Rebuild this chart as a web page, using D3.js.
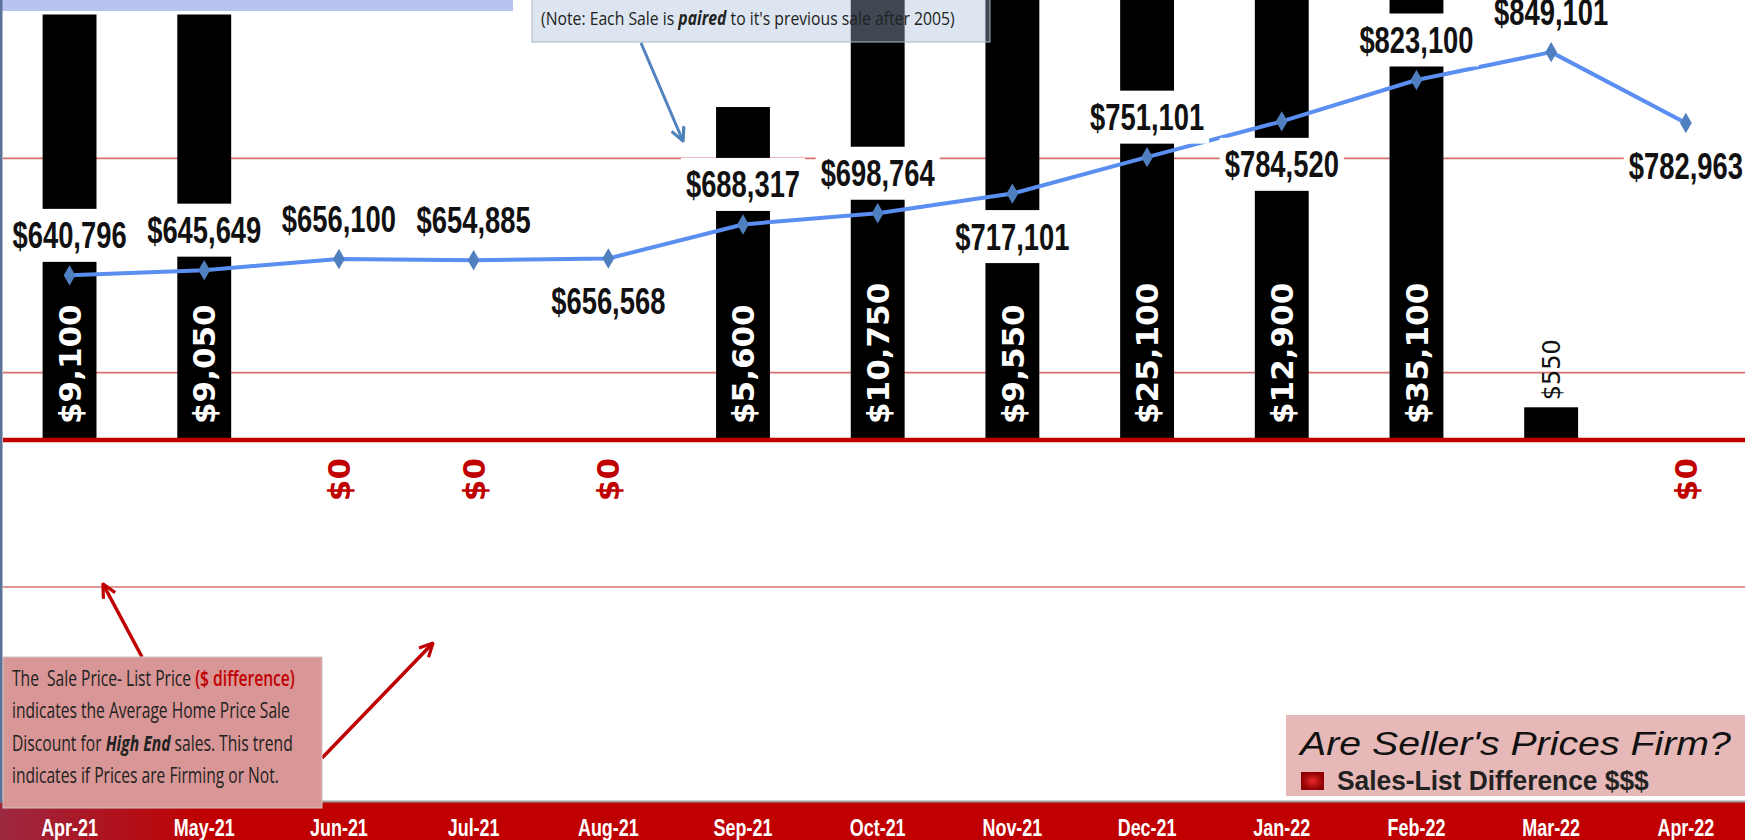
<!DOCTYPE html>
<html>
<head>
<meta charset="utf-8">
<script src="https://cdnjs.cloudflare.com/ajax/libs/d3/7.8.5/d3.min.js"></script>
<style>
  html, body { margin: 0; padding: 0; background: #fff; overflow: hidden; }
  svg { display: block; }
</style>
</head>
<body>
<script>
// chart data
const months = ["Apr-21", "May-21", "Jun-21", "Jul-21", "Aug-21", "Sep-21", "Oct-21",
  "Nov-21", "Dec-21", "Jan-22", "Feb-22", "Mar-22", "Apr-22"];
const avgSalePrice = [640796, 645649, 656100, 654885, 656568, 688317, 698764,
  717101, 751101, 784520, 823100, 849101, 782963];
const saleListDiff = [9100, 9050, 0, 0, 0, 5600, 10750, 9550, 25100, 12900, 35100, 550, 0];
const priceLabelSide = ["above", "above", "above", "above", "below", "above", "above",
  "below", "above", "below", "above", "above", "below"];
const priceGridTicks = [350000, 550000, 750000, 950000];

const noteParts = [["(Note: Each Sale is ", ""], ["paired", "bi"], [" to it's previous sale after 2005)", ""]];
const infoLines = [
  [["The  Sale Price- List Price ", ""], ["($ difference)", "red"]],
  [["indicates the Average Home Price Sale", ""]],
  [["Discount for ", ""], ["High End", "bi"], [" sales. This trend", ""]],
  [["indicates if Prices are Firming or Not.", ""]]
];
const legendTitle = "Are Seller's Prices Firm?";
const legendItem = "Sales-List Difference $$$";

const width = 1745, height = 840;
const base = 440;

const svg = d3.select("body").append("svg")
  .attr("width", width)
  .attr("height", height);

const defs = svg.append("defs");
const bandGrad = defs.append("linearGradient").attr("id", "bandGrad")
  .attr("x1", 0).attr("x2", 1).attr("y1", 0).attr("y2", 0);
bandGrad.append("stop").attr("offset", "0%").attr("stop-color", "#9c2840");
bandGrad.append("stop").attr("offset", "12%").attr("stop-color", "#c00000");
bandGrad.append("stop").attr("offset", "100%").attr("stop-color", "#c00000");

const keyGrad = defs.append("radialGradient").attr("id", "keyGrad");
keyGrad.append("stop").attr("offset", "0%").attr("stop-color", "#e8282a");
keyGrad.append("stop").attr("offset", "100%").attr("stop-color", "#8e0000");

function arrowMarker(id, color) {
  defs.append("marker")
    .attr("id", id)
    .attr("viewBox", "0 0 12 12")
    .attr("refX", 11).attr("refY", 6)
    .attr("markerWidth", 16).attr("markerHeight", 16)
    .attr("markerUnits", "userSpaceOnUse")
    .attr("orient", "auto")
    .append("path")
    .attr("d", "M1,1 L11,6 L1,11")
    .attr("fill", "none")
    .attr("stroke", color)
    .attr("stroke-width", 2.4);
}
arrowMarker("arrowBlue", "#4f81bd");
arrowMarker("arrowRed", "#c00000");

const x = d3.scaleBand()
  .domain(months)
  .range([2.2, 1753.2])
  .paddingInner(0.6)
  .paddingOuter(0.3);
const cx = m => x(m) + x.bandwidth() / 2;

const yBar = d3.scaleLinear().domain([0, 7400]).range([base, 0]);
const yLine = d3.scaleLinear().domain([350000, 950000]).range([587, -56]);

// squeeze a text element horizontally around anchor point ax
function squeeze(sel, s, ax) {
  sel.attr("transform", `translate(${ax},0) scale(${s},1) translate(${-ax},0)`);
}
function fitWidth(sel, target, ax) {
  const len = sel.node().getComputedTextLength();
  squeeze(sel, target / len, ax);
}
function addParts(textSel, parts) {
  parts.forEach(p => {
    const t = textSel.append("tspan").text(p[0]);
    if (p[1] === "bi") t.attr("font-weight", "bold").attr("font-style", "italic");
    if (p[1] === "red") t.attr("fill", "#c00000").attr("font-weight", "600");
  });
}

// gridlines
svg.append("g").selectAll("line")
  .data(priceGridTicks)
  .join("line")
  .attr("x1", 3).attr("x2", width)
  .attr("y1", d => yLine(d)).attr("y2", d => yLine(d))
  .attr("stroke", "#d77070")
  .attr("stroke-width", 1.6);

// bars
const rows = months.map((m, i) => ({ m, price: avgSalePrice[i], diff: saleListDiff[i], side: priceLabelSide[i] }));

svg.append("g").selectAll("rect")
  .data(rows.filter(d => d.diff > 0))
  .join("rect")
  .attr("x", d => x(d.m))
  .attr("width", x.bandwidth())
  .attr("y", d => yBar(d.diff))
  .attr("height", d => base - yBar(d.diff))
  .attr("fill", "#000");

// zero line of the bar axis
svg.append("line")
  .attr("x1", 3).attr("x2", width)
  .attr("y1", yBar(0)).attr("y2", yBar(0))
  .attr("stroke", "#c00000")
  .attr("stroke-width", 4.5);

// price line
const line = d3.line().x(d => cx(d.m)).y(d => yLine(d.price));
svg.append("path")
  .datum(rows)
  .attr("d", line)
  .attr("fill", "none")
  .attr("stroke", "#5a8ef0")
  .attr("stroke-width", 4)
  .attr("stroke-linejoin", "round");

svg.append("g").selectAll("path")
  .data(rows)
  .join("path")
  .attr("transform", d => `translate(${cx(d.m)},${yLine(d.price)})`)
  .attr("d", d3.symbol(d3.symbolDiamond, 120))
  .attr("fill", "#4f7fbf");

// price labels with white boxes
const fmt = d3.format(",");
const priceLab = svg.append("g").selectAll("g")
  .data(rows)
  .join("g")
  .attr("transform", d => `translate(${cx(d.m)},${yLine(d.price) + (d.side === "above" ? -40 : 43)})`);

priceLab.each(function(d) {
  const g = d3.select(this);
  const r = g.append("rect").attr("fill", "#fff");
  const t = g.append("text")
    .attr("text-anchor", "middle")
    .attr("dy", "0.35em")
    .attr("font-family", "Liberation Sans, Arial, sans-serif")
    .attr("font-weight", "bold")
    .attr("font-size", 37)
    .attr("fill", "#111")
    .text("$" + fmt(d.price));
  const s = 0.74;
  squeeze(t, s, 0);
  const w = t.node().getComputedTextLength() * s + 10;
  r.attr("x", -w / 2).attr("width", w).attr("y", -26.5).attr("height", 53);
});

// bar value labels
svg.append("g").selectAll("text")
  .data(rows)
  .join("text")
  .attr("transform", d => {
    if (d.diff === 0) return `translate(${cx(d.m)},${base + 18}) rotate(-90)`;
    if (base - yBar(d.diff) < 80) return `translate(${cx(d.m)},${yBar(d.diff) - 7}) rotate(-90)`;
    return `translate(${cx(d.m)},${base - 16}) rotate(-90)`;
  })
  .attr("text-anchor", d => d.diff === 0 ? "end" : "start")
  .attr("dy", "0.36em")
  .attr("font-family", "DejaVu Sans, Verdana, sans-serif")
  .attr("font-weight", d => (d.diff > 0 && base - yBar(d.diff) < 80) ? "normal" : "bold")
  .attr("font-size", d => (d.diff > 0 && base - yBar(d.diff) < 80) ? 24 : 31)
  .attr("fill", d => d.diff === 0 ? "#c00000" : (base - yBar(d.diff) < 80 ? "#111" : "#fff"))
  .text(d => "$" + fmt(d.diff));

// title box remnant at the top
svg.append("rect").attr("x", 0).attr("y", 0).attr("width", 515).attr("height", 14.5).attr("fill", "#fff");
svg.append("rect").attr("x", 0).attr("y", 0).attr("width", 513).attr("height", 11).attr("fill", "#b8c3f0");

// note box
svg.append("rect")
  .attr("x", 532).attr("y", -3).attr("width", 458).attr("height", 45)
  .attr("fill", "rgb(165,189,216)").attr("fill-opacity", 0.38)
  .attr("stroke", "#aab6c6").attr("stroke-width", 1);
const note = svg.append("text")
  .attr("x", 541).attr("y", 25)
  .attr("font-family", "Open Sans, sans-serif")
  .attr("font-size", 19)
  .attr("fill", "#222");
addParts(note, noteParts);
fitWidth(note, 414, 541);

svg.append("line")
  .attr("x1", 641).attr("y1", 43).attr("x2", 683).attr("y2", 141)
  .attr("stroke", "#4f81bd").attr("stroke-width", 3)
  .attr("marker-end", "url(#arrowBlue)");

// red arrows
svg.append("line")
  .attr("x1", 142).attr("y1", 657).attr("x2", 103).attr("y2", 584)
  .attr("stroke", "#c00000").attr("stroke-width", 3.5)
  .attr("marker-end", "url(#arrowRed)");
svg.append("line")
  .attr("x1", 322).attr("y1", 758).attr("x2", 433).attr("y2", 643)
  .attr("stroke", "#c00000").attr("stroke-width", 3.5)
  .attr("marker-end", "url(#arrowRed)");

// x axis band
svg.append("rect")
  .attr("x", 0).attr("y", 802).attr("width", width).attr("height", 38)
  .attr("fill", "url(#bandGrad)");
svg.append("line")
  .attr("x1", 0).attr("x2", width).attr("y1", 801.5).attr("y2", 801.5)
  .attr("stroke", "#a0a0a0").attr("stroke-width", 2);

const xAxis = svg.append("g")
  .attr("transform", "translate(0,802)")
  .call(d3.axisBottom(x).tickSize(0));
xAxis.select(".domain").remove();
xAxis.selectAll("text")
  .attr("y", 34).attr("dy", 0)
  .attr("fill", "#fff")
  .attr("font-family", "Liberation Sans, Arial, sans-serif")
  .attr("font-weight", "bold")
  .attr("font-size", 23)
  .attr("transform", "scale(0.78,1)");

// info box
svg.append("rect")
  .attr("x", 3).attr("y", 657).attr("width", 319).attr("height", 151)
  .attr("fill", "#d99696")
  .attr("stroke", "#cfc4c4").attr("stroke-width", 1);
const infoWidths = [283, 278, 281, 267];
infoLines.forEach((parts, i) => {
  const t = svg.append("text")
    .attr("x", 12).attr("y", 686 + i * 32.3)
    .attr("font-family", "Open Sans, sans-serif")
    .attr("font-size", 22)
    .attr("fill", "#222")
    .style("white-space", "pre");
  addParts(t, parts);
  fitWidth(t, infoWidths[i], 12);
});

// legend box
svg.append("rect")
  .attr("x", 1286).attr("y", 715).attr("width", 470).attr("height", 81)
  .attr("fill", "#e6b9b8");
const lt = svg.append("text")
  .attr("x", 1300).attr("y", 755)
  .attr("font-family", "Liberation Sans, Arial, sans-serif")
  .attr("font-style", "italic")
  .attr("font-size", 34)
  .attr("fill", "#111")
  .text(legendTitle);
fitWidth(lt, 431, 1300);
svg.append("rect")
  .attr("x", 1301).attr("y", 772).attr("width", 23).attr("height", 18)
  .attr("fill", "url(#keyGrad)");
const li = svg.append("text")
  .attr("x", 1337).attr("y", 790)
  .attr("font-family", "Liberation Sans, Arial, sans-serif")
  .attr("font-weight", "bold")
  .attr("font-size", 27)
  .attr("fill", "#222")
  .text(legendItem);
fitWidth(li, 312, 1337);

// left border
svg.append("rect")
  .attr("x", 0).attr("y", 0).attr("width", 2.5).attr("height", 802)
  .attr("fill", "#587397");
</script>
</body>
</html>
